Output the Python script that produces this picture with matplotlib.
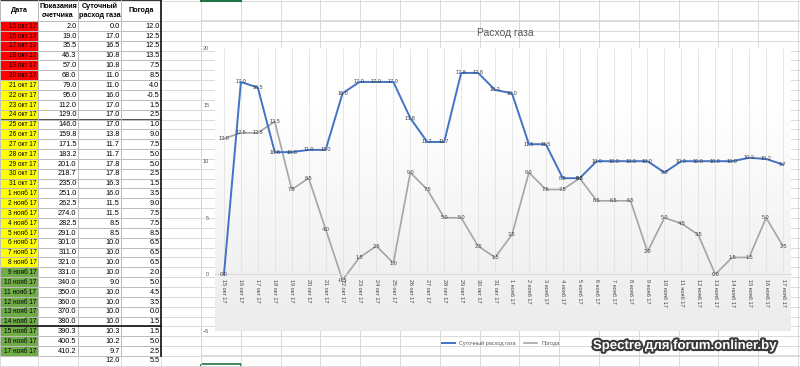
import matplotlib.pyplot as plt
import matplotlib.patheffects as pe
from matplotlib.patches import Rectangle
from matplotlib.lines import Line2D
from matplotlib.colors import LinearSegmentedColormap
import numpy as np

plt.rcParams['font.family'] = ['Liberation Sans', 'DejaVu Sans']

# --- data from the sheet ---
dates = ["15 окт 17", "16 окт 17", "17 окт 17", "18 окт 17", "19 окт 17", "20 окт 17",
         "21 окт 17", "22 окт 17", "23 окт 17", "24 окт 17", "25 окт 17", "26 окт 17",
         "27 окт 17", "28 окт 17", "29 окт 17", "30 окт 17", "31 окт 17",
         "1 нояб 17", "2 нояб 17", "3 нояб 17", "4 нояб 17", "5 нояб 17", "6 нояб 17",
         "7 нояб 17", "8 нояб 17", "9 нояб 17", "10 нояб 17", "11 нояб 17", "12 нояб 17",
         "13 нояб 17", "14 нояб 17", "15 нояб 17", "16 нояб 17", "17 нояб 17"]
meter = [2.0, 19.0, 35.5, 46.3, 57.0, 68.0, 79.0, 95.0, 112.0, 129.0, 146.0, 159.8,
         171.5, 183.2, 201.0, 218.7, 235.0, 251.0, 262.5, 274.0, 282.5, 291.0, 301.0,
         311.0, 321.0, 331.0, 340.0, 350.0, 360.0, 370.0, 380.0, 390.3, 400.5, 410.2]
gas = [0.0, 17.0, 16.5, 10.8, 10.8, 11.0, 11.0, 16.0, 17.0, 17.0, 17.0, 13.8, 11.7,
       11.7, 17.8, 17.8, 16.3, 16.0, 11.5, 11.5, 8.5, 8.5, 10.0, 10.0, 10.0, 10.0, 9.0,
       10.0, 10.0, 10.0, 10.0, 10.3, 10.2, 9.7]
weather = [12.0, 12.5, 12.5, 13.5, 7.5, 8.5, 4.0, -0.5, 1.5, 2.5, 1.0, 9.0, 7.5, 5.0,
           5.0, 2.5, 1.5, 3.5, 9.0, 7.5, 7.5, 8.5, 6.5, 6.5, 6.5, 2.0, 5.0, 4.5, 3.5,
           0.0, 1.5, 1.5, 5.0, 2.5]
date_colors = ['#ff0000'] * 6 + ['#ffff00'] * 19 + ['#70ad47'] * 9
avg_gas = 12.0
avg_weather = 5.5

headers = ["Дата", "Показания\nсчетчика", "Суточный\nрасход газа", "Погода"]

fig = plt.figure(figsize=(8, 3.67), dpi=100)

# background sheet in pixel coordinates
bg = fig.add_axes([0, 0, 1, 1])
bg.set_xlim(0, 800)
bg.set_ylim(367, 0)
bg.axis('off')

row_top = 21
row_h = 9.85
col_x = [0, 38, 78, 121, 161, 201]
grid_c = '#d4d4d4'

# sheet gridlines
for k in range(36):
    y = row_top + k * row_h
    bg.plot([0, 800], [y, y], color=grid_c, lw=0.6)
bg.plot([0, 800], [0.5, 0.5], color=grid_c, lw=0.6)
for xx in col_x + [201 + k * 39.8 for k in range(1, 16)]:
    bg.plot([xx, xx], [0, 367], color=grid_c, lw=0.6)

# table
edge = '#333333'
for j, h in enumerate(headers):
    bg.add_patch(Rectangle((col_x[j], 0), col_x[j + 1] - col_x[j], row_top,
                           facecolor='white', edgecolor=edge, lw=0.7))
    bg.text((col_x[j] + col_x[j + 1]) / 2, row_top / 2 + 0.5, h, ha='center', va='center',
            fontsize=5.2, fontweight='bold', linespacing=1.5)

for i, d in enumerate(dates):
    y0 = row_top + i * row_h
    cells = [d, f'{meter[i]:.1f}', f'{gas[i]:.1f}', f'{weather[i]:.1f}']
    for j, s in enumerate(cells):
        fc = date_colors[i] if j == 0 else 'white'
        bg.add_patch(Rectangle((col_x[j], y0), col_x[j + 1] - col_x[j], row_h,
                               facecolor=fc, edgecolor=edge, lw=0.6))
        bg.text(col_x[j + 1] - 1.5, y0 + row_h / 2 + 0.3, s, ha='right', va='center',
                fontsize=4.7 if j == 0 else 5.3)

y_avg = row_top + len(dates) * row_h
bg.text(col_x[3] - 1.5, y_avg + row_h / 2, f'{avg_gas:.1f}', ha='right', va='center', fontsize=5.3)
bg.text(col_x[4] - 1.5, y_avg + row_h / 2, f'{avg_weather:.1f}', ha='right', va='center', fontsize=5.3)

bg.plot([161, 161], [0, y_avg], color='#111111', lw=1.2)
bg.plot([0, 161], [row_top + 31 * row_h] * 2, color='#111111', lw=1.2)

# selected cell marks
bg.plot([201, 241], [0.6, 0.6], color='#217346', lw=1.5)
bg.add_patch(Rectangle((201, 364), 40, 5, facecolor='none', edgecolor='#217346', lw=1.2))

# chart area
bg.add_patch(Rectangle((201, 20), 599, 335, facecolor='white', edgecolor='#d9d9d9', lw=0.6))
bg.text(505, 33, 'Расход газа', ha='center', va='center', fontsize=7.5, color='#595959')

ax = fig.add_axes([215.5 / 800, 1 - 331 / 367, 576 / 800, 283 / 367])
ax.patch.set_visible(False)
for s in ['top', 'right', 'left']:
    ax.spines[s].set_visible(False)
ax.spines['bottom'].set_position(('data', 0))
ax.spines['bottom'].set_color('#d9d9d9')
ax.spines['bottom'].set_linewidth(0.7)

x = np.arange(len(dates))

yy = np.linspace(-5, 20, 200).reshape(-1, 1)
shade = np.clip((15 - yy) / 20, 0, 1)
cm = LinearSegmentedColormap.from_list('g', ['#ffffff', '#ececec'])
ax.imshow(shade, extent=[-0.5, len(dates) - 0.5, -5, 20], origin='lower',
          aspect='auto', cmap=cm, vmin=0, vmax=1, zorder=0)

ax.vlines(x, 0, 20, color='#e2e2e2', lw=0.6, zorder=1)
ax.plot(x, gas, color='#4472C4', lw=1.4, zorder=3)
ax.plot(x, weather, color='#A5A5A5', lw=1.2, zorder=2)
for i in x:
    ax.text(i, gas[i], f'{gas[i]:.1f}', ha='center', va='center', fontsize=4,
            color='#404040', zorder=4)
    ax.text(i, weather[i], f'{weather[i]:.1f}', ha='center', va='center', fontsize=4,
            color='#404040', zorder=4)

ax.set_xlim(-0.5, len(dates) - 0.5)
ax.set_ylim(-5, 20)
ax.set_xticks(x)
ax.set_xticklabels(dates, rotation=-90, fontsize=4, color='#404040')
ax.set_yticks([-5, 0, 5, 10, 15, 20])
ax.tick_params(axis='x', length=0, pad=3)
ax.tick_params(axis='y', length=0, pad=4.5, labelsize=4, labelcolor='#595959')

handles = [Line2D([], [], color='#4472C4', lw=1.4), Line2D([], [], color='#A5A5A5', lw=1.2)]
fig.legend(handles, ['Суточный расход газа', 'Погода'], loc='center',
           bbox_to_anchor=(501 / 800, 1 - 343 / 367), ncol=2, frameon=False,
           fontsize=4, handlelength=2.3, labelcolor='#595959', columnspacing=1.5)

bg.text(685, 346, 'Spectre для forum.onliner.by', ha='center', va='center',
        fontsize=9.5, fontweight='bold', color='white', zorder=10,
        path_effects=[pe.withStroke(linewidth=3, foreground='#3a3a3a')])

fig.savefig('out.png', dpi=100)
